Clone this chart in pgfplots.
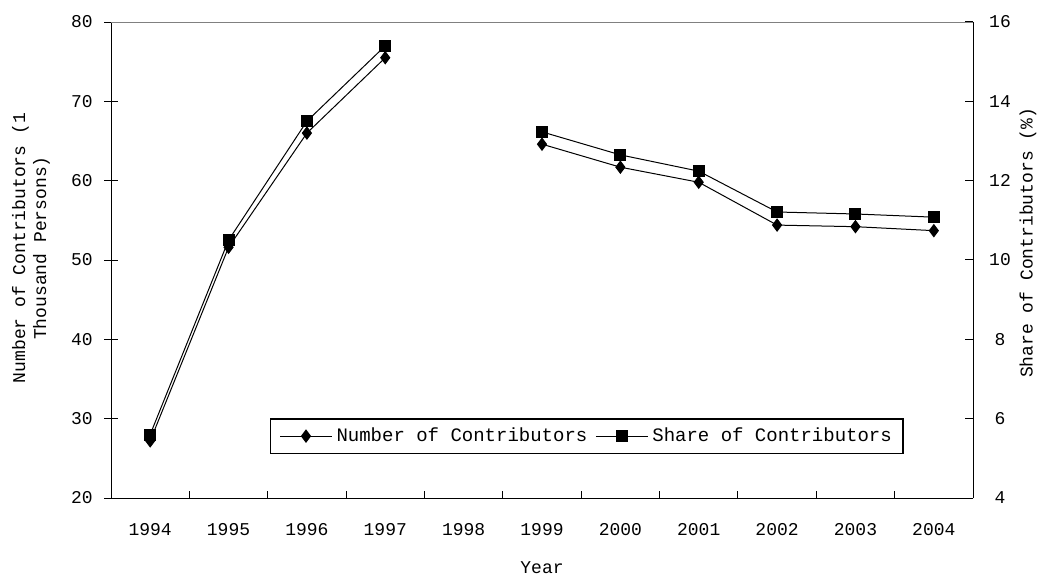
\documentclass[border=0pt]{standalone}
\usepackage{pgfplots}
\pgfplotsset{compat=1.18}
\usepackage{fontspec}
\setmainfont{Liberation Mono}
\newcommand{\chartfont}{\fontsize{18}{21}\selectfont}
\newcommand{\legfont}{\fontsize{19}{22}\selectfont}
\begin{document}
\chartfont
\begin{tikzpicture}
\begin{axis}[
  at={(111pt,78pt)}, anchor=south west,
  width=862pt, height=476pt, scale only axis,
  xmin=-0.5, xmax=10.5, ymin=20, ymax=80,
  axis x line*=bottom, axis y line*=left,
  axis line style={black, line width=1pt},
  xtick={0.5,1.5,...,9.5}, xticklabels={},
  extra x ticks={0,1,2,3,4,5,6,7,8,9,10},
  extra x tick labels={1994,1995,1996,1997,1998,1999,2000,2001,2002,2003,2004},
  extra x tick style={major tick length=0pt},
  ytick={20,30,...,80},
  extra y ticks={20,30,...,80}, extra y tick labels={},
  extra y tick style={tick align=outside},
  tick align=inside, major tick length=7pt,
  tick style={black, line width=1pt},
  tick label style={font=\chartfont},
  /pgf/number format/assume math mode=true,
  x tick label style={anchor=center, yshift=-32pt},
  y tick label style={anchor=center, xshift=-29pt},
  xlabel={Year},
  xlabel style={font=\chartfont, at={(axis description cs:0.5,-0.147)}, anchor=center},
  ylabel={Number of Contributors (1\\Thousand Persons)},
  ylabel style={font=\chartfont, align=center, at={(axis description cs:-0.0928,0.525)}, anchor=center},
  unbounded coords=jump,
  legend columns=2,
  legend style={at={(axis description cs:0.5518,0.13)}, anchor=center,
    draw=black, line width=1.5pt, font=\legfont, inner xsep=9pt, inner ysep=7pt,
    /tikz/every odd column/.append style={column sep=2pt},
    /tikz/every even column/.append style={column sep=6pt}},
  legend image code/.code={\draw[mark repeat=2,mark phase=2,line width=1pt] plot coordinates {(0pt,0pt) (26pt,0pt) (52pt,0pt)};},
]
\draw[gray, line width=1pt] (rel axis cs:0,1) -- (rel axis cs:1,1);
\addplot[black, line width=1pt, mark=diamond*, mark size=6pt, mark options={solid, fill=black}]
  coordinates {(0,27.2) (1,51.6) (2,66.0) (3,75.5) (4,nan) (5,64.6) (6,61.7) (7,59.8) (8,54.4) (9,54.2) (10,53.7)};
\addlegendentry{Number of Contributors}
\addlegendimage{black, line width=1pt, mark=square*, mark size=5.5pt, mark options={solid, fill=black}}
\addlegendentry{Share of Contributors}
\end{axis}
\begin{axis}[
  at={(111pt,78pt)}, anchor=south west,
  width=862pt, height=476pt, scale only axis,
  xmin=-0.5, xmax=10.5, ymin=4, ymax=16,
  axis x line=none, axis y line*=right,
  axis line style={black, line width=1pt},
  ytick={4,6,...,16},
  tick align=inside, major tick length=8pt,
  tick style={black, line width=1pt},
  tick label style={font=\chartfont},
  /pgf/number format/assume math mode=true,
  y tick label style={anchor=center, xshift=27pt},
  ylabel={Share of Contributors (\%)},
  ylabel style={font=\chartfont, at={(axis description cs:1.0638,0.536)}, anchor=center, rotate=0},
  unbounded coords=jump,
]
\addplot[black, line width=1pt, mark=square*, mark size=5.5pt, mark options={solid, fill=black}]
  coordinates {(0,5.6) (1,10.5) (2,13.5) (3,15.4) (4,nan) (5,13.23) (6,12.65) (7,12.24) (8,11.21) (9,11.16) (10,11.08)};
\end{axis}
\pgfresetboundingbox
\path (0,0) rectangle (1038pt,576pt);
\end{tikzpicture}
\end{document}
